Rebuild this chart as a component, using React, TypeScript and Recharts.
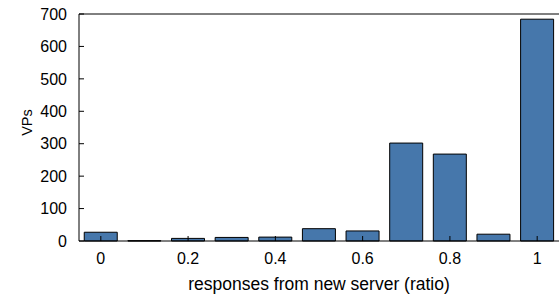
import { Bar, BarChart, XAxis, YAxis } from "recharts";

const ratios = ["0", "0.1", "0.2", "0.3", "0.4", "0.5", "0.6", "0.7", "0.8", "0.9", "1"];
const vps = [27, 1, 8, 11, 12, 38, 31, 302, 268, 21, 684];
const yTicks = [0, 100, 200, 300, 400, 500, 600, 700];

const data = ratios.map((ratio, i) => ({ ratio, vps: vps[i] }));

const family = "'Liberation Sans', Arial, sans-serif";
const tickFont = { fontFamily: family, fontSize: 16, fill: "#000" };
const labelFont = { fontFamily: family, fontSize: 17.5, fill: "#000" };

// rotated y label, placed a bit above the plot's middle like the original
const YLabel = (props: any) => {
  const vb = props.viewBox || { x: 0, y: 0, width: 0, height: 0 };
  const x = 27;
  const y = vb.y + vb.height / 2 - 5;
  return (
    <text
      x={x}
      y={y}
      transform={`rotate(-90, ${x}, ${y})`}
      textAnchor="middle"
      dominantBaseline="central"
      style={{ fontFamily: family, fontSize: 14.5, fill: "#000" }}
    >
      VPs
    </text>
  );
};

const App = () => {
  return (
    <div style={{ position: "absolute", left: 0, top: 0 }}>
      <BarChart
        width={559}
        height={298}
        data={data}
        margin={{ top: 0, right: 0, left: 0, bottom: 0 }}
        barCategoryGap="12%"
      >
        <XAxis
          xAxisId="top"
          orientation="top"
          dataKey="ratio"
          height={14}
          interval={1}
          tick={false}
          tickSize={-5}
          axisLine={{ stroke: "#000" }}
          tickLine={{ stroke: "#000" }}
        />
        <XAxis
          dataKey="ratio"
          height={57}
          interval={1}
          tickSize={-5}
          tickMargin={17}
          tick={tickFont}
          axisLine={{ stroke: "#000" }}
          tickLine={{ stroke: "#000" }}
          label={{
            value: "responses from new server (ratio)",
            position: "insideBottom",
            offset: 8,
            style: labelFont,
          }}
        />
        <YAxis
          width={79}
          domain={[0, 700]}
          ticks={yTicks}
          interval={0}
          tickSize={-5}
          tickMargin={17}
          tick={tickFont}
          axisLine={{ stroke: "#000" }}
          tickLine={{ stroke: "#000" }}
          label={<YLabel />}
        />
        <Bar
          dataKey="vps"
          fill="#4677ab"
          stroke="#000"
          strokeWidth={1}
          isAnimationActive={false}
        />
      </BarChart>
    </div>
  );
};

export default App;
